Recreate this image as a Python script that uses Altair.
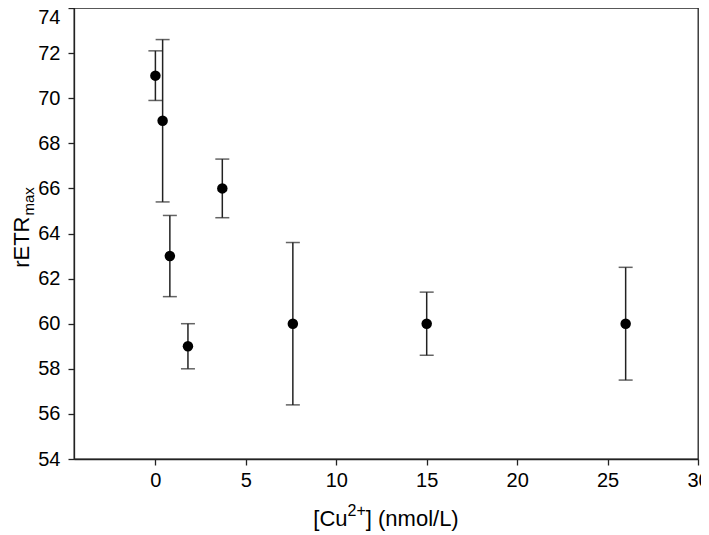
import altair as alt
import pandas as pd

# Data
cu = [0.0, 0.4, 0.8, 1.8, 3.7, 7.6, 15.0, 26.0]
retr = [71.0, 69.0, 63.0, 59.0, 66.0, 60.0, 60.0, 60.0]
upper = [72.1, 72.6, 64.8, 60.0, 67.3, 63.6, 61.4, 62.5]
lower = [69.9, 65.4, 61.2, 58.0, 64.7, 56.4, 58.6, 57.5]

x_ticks = [0, 5, 10, 15, 20, 25, 30]
y_ticks = [54, 56, 58, 60, 62, 64, 66, 68, 70, 72, 74]

x_title_parts = ["[Cu", "2+", "] (nmol/L)"]
y_title_parts = ["rETR", "max"]

df = pd.DataFrame({"cu": cu, "retr": retr, "upper": upper, "lower": lower})

FONT = "Liberation Sans"
W, H = 624, 451

xs = alt.Scale(domain=[-4.5, 30], nice=False, zero=False)
ys = alt.Scale(domain=[54, 74], nice=False, zero=False)

xax = alt.Axis(values=x_ticks, title=None, grid=False, tickSize=6, labelPadding=5,
               labelFontSize=20, labelFont=FONT, labelColor="black",
               domainColor="#222222", tickColor="#222222", labelFlush=False, labelOverlap=False)
yax = alt.Axis(values=y_ticks, title=None, grid=False, tickSize=6, labelPadding=8,
               labelFontSize=20, labelFont=FONT, labelColor="black",
               domainColor="#222222", tickColor="#222222", labelFlush=False, labelOverlap=False,
               labelOffset=alt.condition("datum.value == 74", alt.value(9), alt.value(0)))

base = alt.Chart(df)

bars = base.mark_rule(color="#222222", strokeWidth=1.5).encode(
    x=alt.X("cu:Q", scale=xs, axis=xax),
    y=alt.Y("lower:Q", scale=ys, axis=yax),
    y2="upper:Q",
)
cap_hi = base.mark_tick(color="#222222", thickness=1.5, size=14, orient="horizontal").encode(
    x=alt.X("cu:Q", scale=xs), y=alt.Y("upper:Q", scale=ys)
)
cap_lo = base.mark_tick(color="#222222", thickness=1.5, size=14, orient="horizontal").encode(
    x=alt.X("cu:Q", scale=xs), y=alt.Y("lower:Q", scale=ys)
)
pts = base.mark_circle(color="black", opacity=1, size=110).encode(
    x=alt.X("cu:Q", scale=xs), y=alt.Y("retr:Q", scale=ys)
)

# x-axis title pieces
main_fs, sup_fs = 22, 16
w1 = 1.556 * main_fs
w2 = 1.14 * sup_fs
w3 = 4.223 * main_fs
x0 = W / 2 - (w1 + w2 + w3) / 2
xt_base = 518

def txt(s, x, y, fs, angle=0):
    return alt.Chart(pd.DataFrame({"t": [s]})).mark_text(
        align="left", baseline="alphabetic", font=FONT, fontSize=fs, color="black", angle=angle
    ).encode(text="t:N", x=alt.value(x), y=alt.value(y))

xt1 = txt(x_title_parts[0], x0, xt_base, main_fs)
xt2 = txt(x_title_parts[1], x0 + w1, xt_base - 10, sup_fs)
xt3 = txt(x_title_parts[2], x0 + w1 + w2, xt_base, main_fs)

# y-axis title pieces (rotated)
y_fs, ysub_fs = 22, 15
yw1 = 2.333 * y_fs
yw2 = 1.889 * ysub_fs
ystart = 220 + (yw1 + yw2) / 2
yt1 = txt(y_title_parts[0], -45, ystart, y_fs, angle=270)
yt2 = txt(y_title_parts[1], -40, ystart - yw1 - 1, ysub_fs, angle=270)

chart = alt.layer(bars, cap_hi, cap_lo, pts, xt1, xt2, xt3, yt1, yt2).properties(
    width=W, height=H,
    autosize=alt.AutoSizeParams(type="none"),
    padding={"left": 66, "top": 0, "right": 3, "bottom": 75},
).configure_view(stroke="#222222", strokeWidth=1.3).configure_axis(domainWidth=1.3, tickWidth=1.3)

chart.save("out.html", embed_options={"renderer": "svg", "actions": False})
